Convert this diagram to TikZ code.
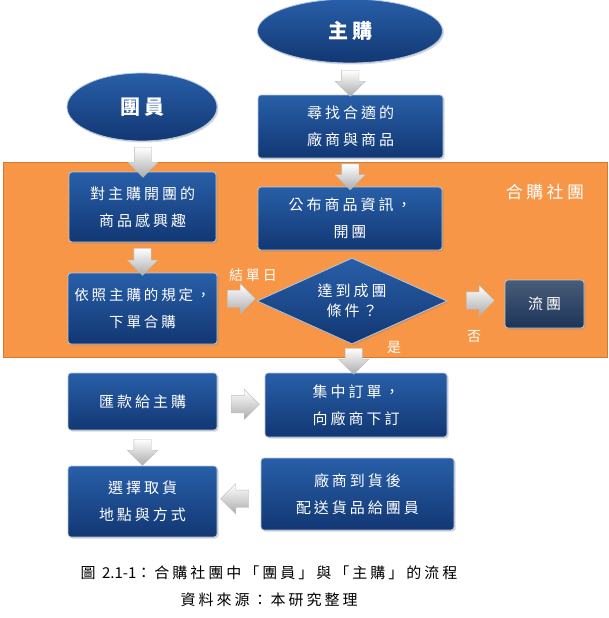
\documentclass[tikz,border=0pt]{standalone}
\usepackage{fontspec}
\setmainfont{Noto Sans CJK TC}[LetterSpace=20]
\newfontfamily\plainfont{Noto Sans CJK TC}
\usetikzlibrary{shapes.geometric,shapes.arrows,shadows,calc}
\definecolor{boxtop}{RGB}{40,95,168}
\definecolor{boxbot}{RGB}{18,55,115}
\definecolor{orangebg}{RGB}{247,150,70}
\definecolor{orangeedge}{RGB}{215,120,45}
\definecolor{darkbox}{RGB}{28,52,88}
\tikzset{
  bluebox/.style={rectangle, rounded corners=3pt, draw=white!65!boxtop, line width=0.8pt,
    top color=boxtop, bottom color=boxbot, text=white, align=center,
    font=\fontsize{15}{27}\selectfont, inner sep=0pt,
    drop shadow={opacity=0.3,shadow xshift=1.5pt,shadow yshift=-1.5pt}},
  blueell/.style={ellipse, draw=white!65!boxtop, line width=0.8pt,
    top color=boxtop, bottom color=boxbot, text=white,
    font=\fontsize{20}{24}\selectfont\bfseries, inner sep=0pt,
    drop shadow={opacity=0.3,shadow xshift=1.5pt,shadow yshift=-1.5pt}},
  blockarrow/.style={single arrow, single arrow head extend=6.5pt, single arrow head indent=0pt,
    minimum width=30pt, minimum height=28pt, inner sep=8.5pt,
    draw=gray!55, line width=0.3pt, top color=white, bottom color=gray!65},
  whitelabel/.style={text=white, font=\fontsize{14}{15}\selectfont},
  captionstyle/.style={text=black, font=\fontsize{15}{16}\selectfont}
}
\begin{document}
\begin{tikzpicture}[x=1pt,y=-1pt]
\useasboundingbox (0,0) rectangle (609,618);
\fill[white] (0,0) rectangle (609,618);
% orange group
\node[draw=orangeedge, fill=orangebg, line width=1pt, minimum width=604pt, minimum height=195pt, inner sep=0pt] (group) at (305,259.5) {};
\node[text=white, font=\fontsize{17}{20}\selectfont] (grouplabel) at (545,192) {合購社團};
% nodes
\node[blueell, minimum width=185pt, minimum height=64pt] (zhugou) at (350,31) {主購};
\node[blueell, minimum width=150pt, minimum height=68pt] (tuanyuan) at (142,107) {團員};
\node[bluebox, minimum width=185pt, minimum height=63pt] (find) at (350.5,126.5) {尋找合適的\\廠商與商品};
\node[bluebox, minimum width=147pt, minimum height=70pt] (interest) at (142.5,207) {對主購開團的\\商品感興趣};
\node[bluebox, minimum width=184pt, minimum height=63pt] (publish) at (350,218.5) {公布商品資訊，\\開團};
\node[bluebox, minimum width=149pt, minimum height=71pt, font=\fontsize{14.5}{27}\selectfont] (order) at (142.5,308.5) {依照主購的規定，\\下單合購};
\node[diamond, aspect=2.2, minimum width=190pt, minimum height=86pt, inner sep=0pt,
  draw=white!65!boxtop, line width=0.8pt, top color=boxtop, bottom color=boxbot,
  text=white, align=center, font=\fontsize{15}{20}\selectfont,
  drop shadow={opacity=0.3,shadow xshift=1.5pt,shadow yshift=-1.5pt}] (cond) at (352,301) {達到成團\\條件？};
\node[bluebox, top color=darkbox!80!white, bottom color=darkbox, minimum width=79pt, minimum height=48pt] (liutuan) at (544.5,304) {流團};
\node[bluebox, minimum width=149pt, minimum height=57pt] (remit) at (142.5,401.5) {匯款給主購};
\node[bluebox, minimum width=182pt, minimum height=64pt] (collect) at (356,405) {集中訂單，\\向廠商下訂};
\node[bluebox, minimum width=149pt, minimum height=71pt] (choose) at (142.5,501.5) {選擇取貨\\地點與方式};
\node[bluebox, minimum width=193pt, minimum height=72pt] (vendor) at (357.5,494) {廠商到貨後\\配送貨品給團員};
% block arrows (connectors)
\node[blockarrow, shape border rotate=270, minimum height=26pt] (a1) at ($(zhugou.south)!0.5!(find.north)$) {};
\node[blockarrow, shape border rotate=270, minimum height=30pt] (a2) at (143,158) {};
\node[blockarrow, shape border rotate=270, minimum height=24pt] (a3) at ($(find.south)!0.5!(publish.north)$) {};
\node[blockarrow, shape border rotate=270, minimum height=27pt] (a4) at ($(interest.south)!0.5!(order.north)$) {};
\node[blockarrow] (a5) at ($(order.east)!0.5!(cond.west)+(0,-6)$) {};
\node[blockarrow] (a6) at ($(cond.east)!0.5!(liutuan.west)+(0,-2)$) {};
\node[blockarrow, shape border rotate=270, minimum height=24pt] (a7) at ($(cond.south)!0.45!(collect.north)$) {};
\node[blockarrow] (a8) at ($(remit.east)!0.5!(collect.west)+(0,1)$) {};
\node[blockarrow, shape border rotate=270, minimum height=26pt] (a9) at ($(remit.south)!0.5!(choose.north)$) {};
\node[blockarrow, shape border rotate=180] (a10) at ($(vendor.west)!0.5!(choose.east)+(0,1)$) {};
% labels
\node[whitelabel] (jiedan) at (253,275) {結單日};
\node[whitelabel] (yes) at (394,347) {是};
\node[whitelabel] (no) at (474,337) {否};
% caption
\node[captionstyle] (cap1) at (269,573) {圖 {\plainfont 2.1-1}：合購社團中「團員」與「主購」的流程};
\node[captionstyle] (cap2) at (269,600) {資料來源：本研究整理};
\end{tikzpicture}
\end{document}
